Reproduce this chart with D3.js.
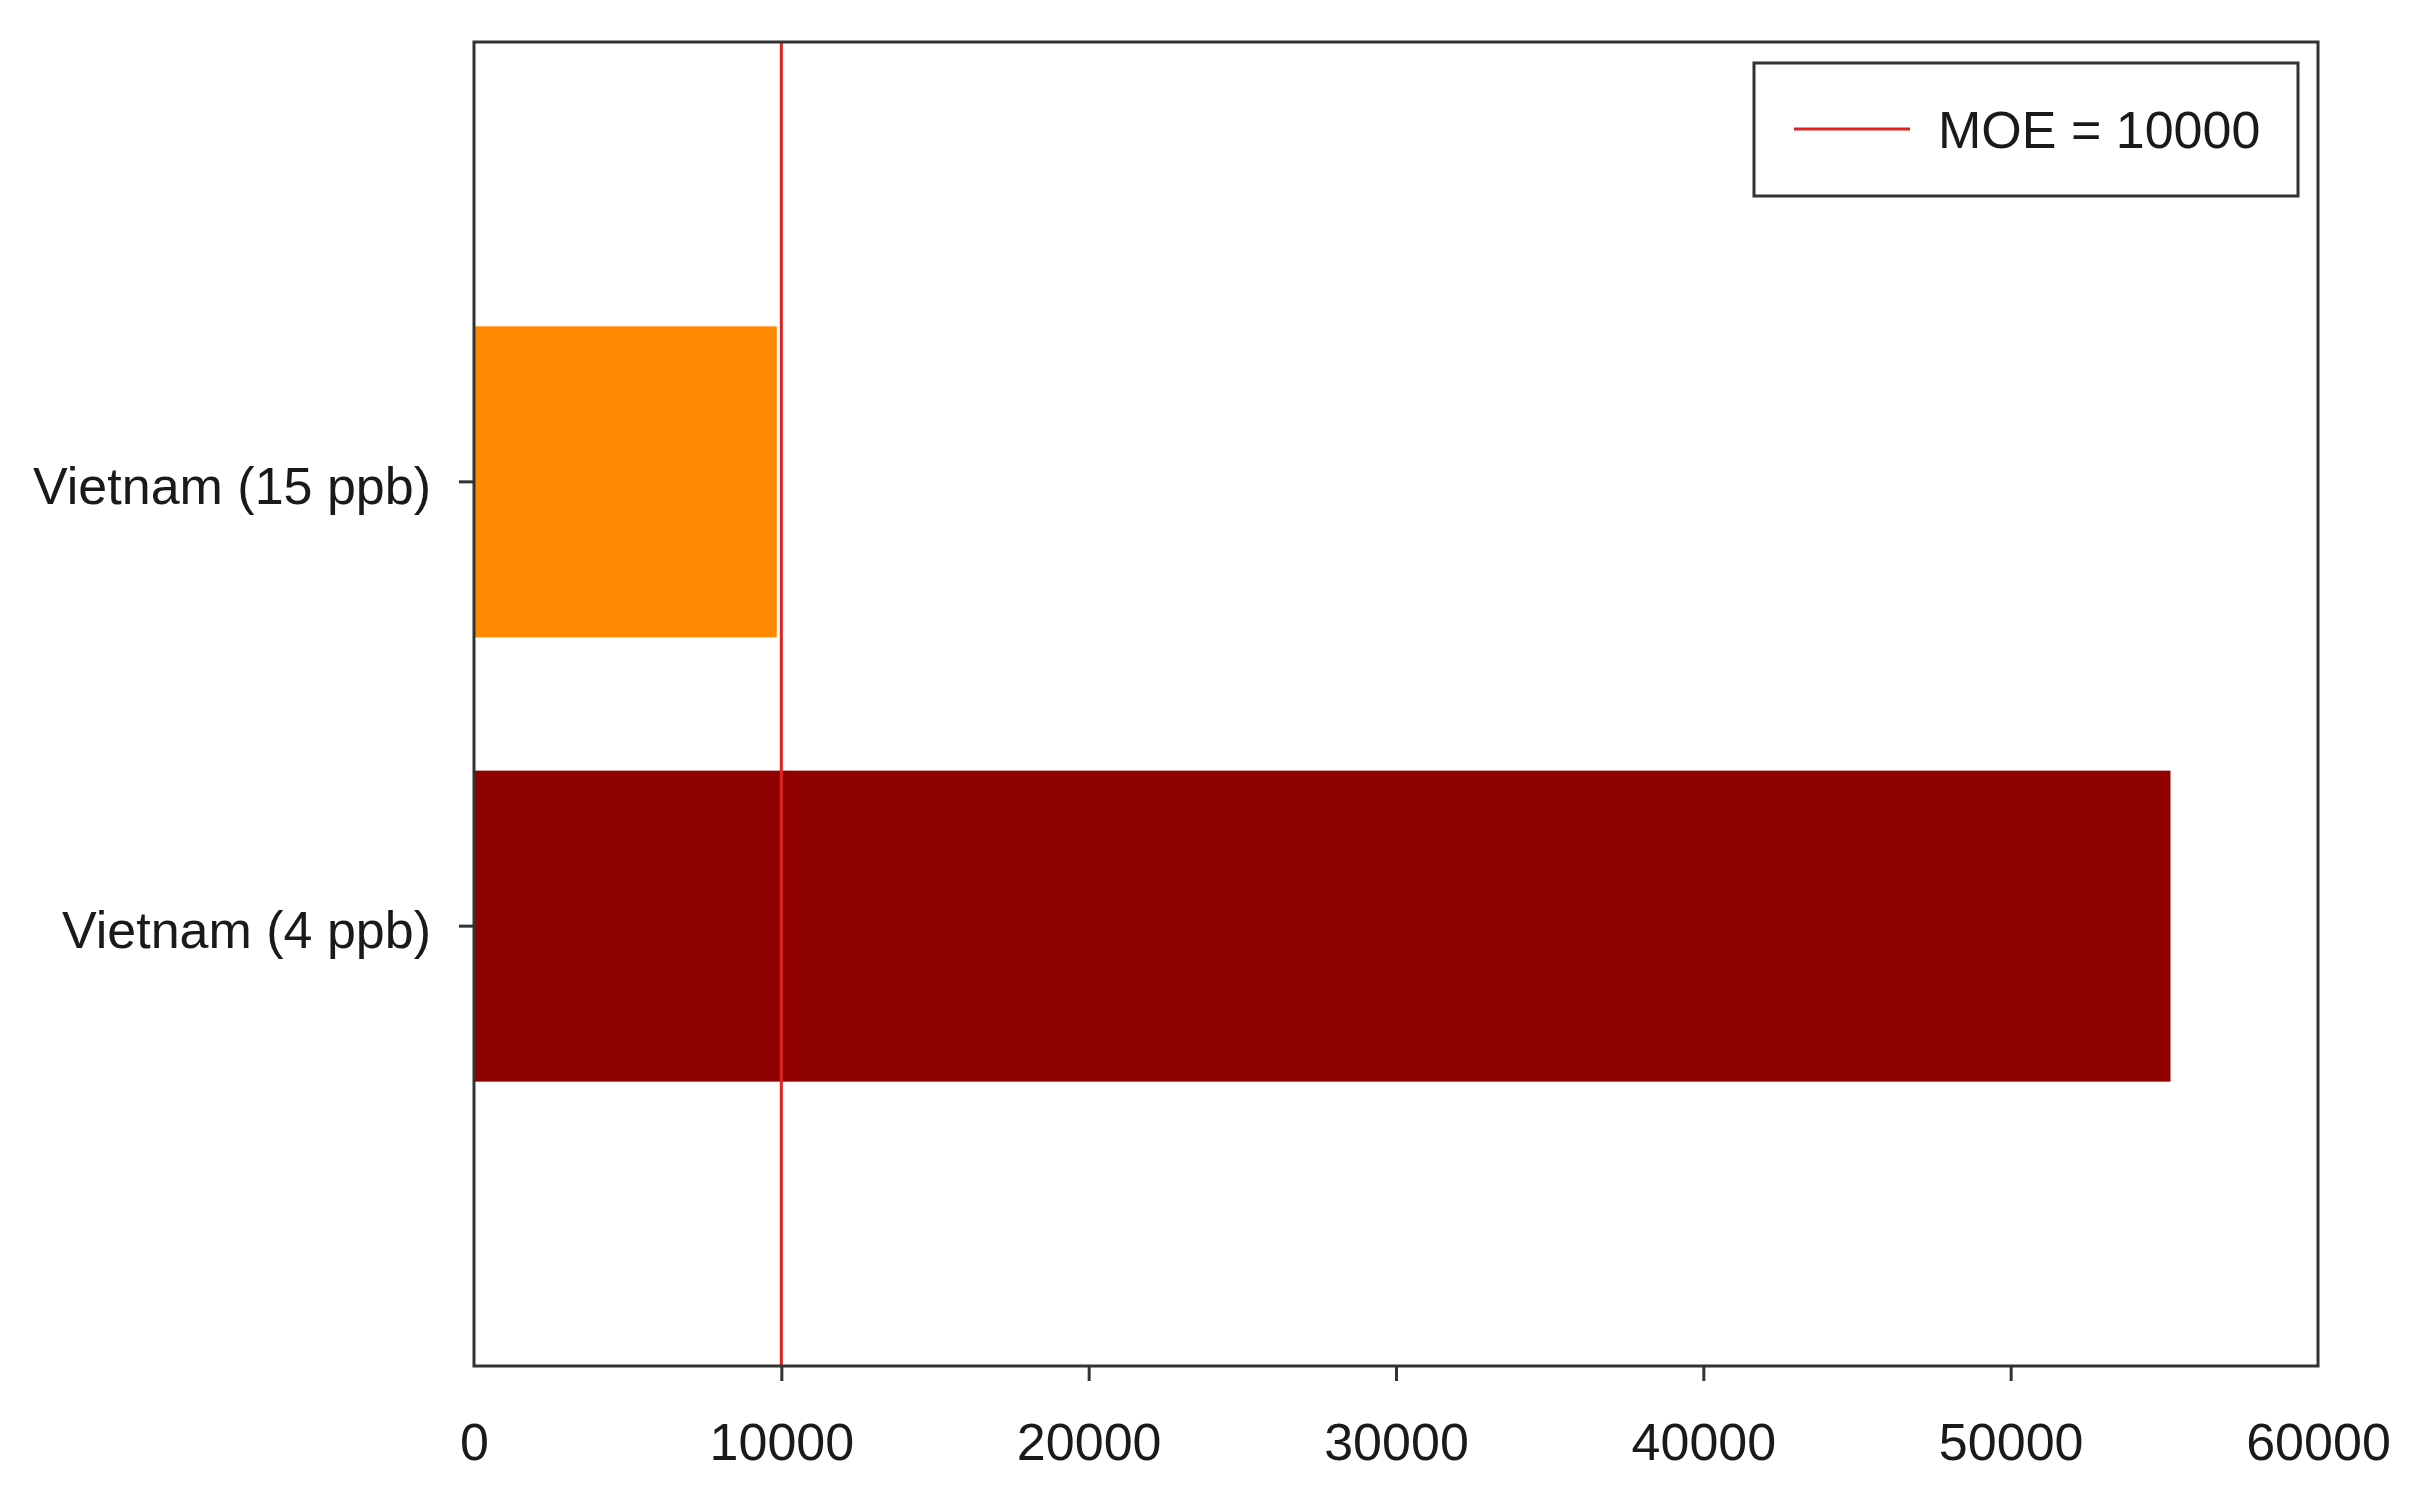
<!DOCTYPE html>
<html>
<head>
<meta charset="utf-8">
<script src="https://cdn.jsdelivr.net/npm/d3@7"></script>
<style>
  body { margin: 0; background: #fff; }
  text { font-family: "Liberation Sans", Arial, sans-serif; fill: #1a1a1a; }
</style>
</head>
<body>
<script>
// chart data
var categories = ["Vietnam (15 ppb)", "Vietnam (4 ppb)"];
var values = [9850, 55200];
var barColors = ["#ff8800", "#8f0000"];
var xTicks = [0, 10000, 20000, 30000, 40000, 50000, 60000];
var moeValue = 10000;
var legendLabel = "MOE = 10000";

// size and margins
var margin = {top: 42, right: 97, bottom: 124, left: 474},
    width = 2415 - margin.left - margin.right,
    height = 1490 - margin.top - margin.bottom;

var x = d3.scaleLinear().domain([0, 60000]).range([0, width]);
var y = d3.scaleBand().domain(categories).range([0, height])
    .paddingInner(0.3).paddingOuter(0.64);

var svg = d3.select("body").append("svg")
    .attr("width", 2415)
    .attr("height", 1490)
  .append("g")
    .attr("transform", "translate(" + margin.left + "," + margin.top + ")");

// bars
svg.selectAll(".bar")
    .data(values)
  .enter().append("rect")
    .attr("class", "bar")
    .attr("x", x(0))
    .attr("y", function(d, i) { return y(categories[i]); })
    .attr("width", function(d) { return x(d) - x(0); })
    .attr("height", y.bandwidth())
    .attr("fill", function(d, i) { return barColors[i]; });

// MOE reference line
svg.append("line")
    .attr("x1", x(moeValue)).attr("x2", x(moeValue))
    .attr("y1", 0).attr("y2", height)
    .attr("stroke", "#dd2222")
    .attr("stroke-width", 3);

// frame
svg.append("rect")
    .attr("width", width)
    .attr("height", height)
    .attr("fill", "none")
    .attr("stroke", "#333")
    .attr("stroke-width", 3);

// x axis
var xAxis = svg.append("g")
    .attr("transform", "translate(0," + height + ")")
    .call(d3.axisBottom(x).tickValues(xTicks).tickFormat(d3.format("d"))
      .tickSize(15).tickPadding(42));
xAxis.select(".domain").remove();
xAxis.selectAll(".tick line")
    .attr("stroke", "#333").attr("stroke-width", 3)
    .filter(function(d) { return d === 0 || d === 60000; }).remove();
xAxis.selectAll("text")
    .style("font-size", "52px")
    .style("font-family", "'Liberation Sans', Arial, sans-serif")
    .attr("fill", "#1a1a1a");

// y axis
var yAxis = svg.append("g")
    .call(d3.axisLeft(y).tickSize(15).tickPadding(28));
yAxis.select(".domain").remove();
yAxis.selectAll(".tick line").attr("stroke", "#333").attr("stroke-width", 3);
yAxis.selectAll("text")
    .attr("dy", "0.42em")
    .style("font-size", "52px")
    .style("font-family", "'Liberation Sans', Arial, sans-serif")
    .attr("fill", "#1a1a1a");

// legend
var legend = svg.append("g")
    .attr("transform", "translate(" + (1754 - margin.left) + "," + (63 - margin.top) + ")");
legend.append("rect")
    .attr("width", 544).attr("height", 133)
    .attr("fill", "#fff")
    .attr("stroke", "#333").attr("stroke-width", 3);
legend.append("line")
    .attr("x1", 40).attr("x2", 156)
    .attr("y1", 66).attr("y2", 66)
    .attr("stroke", "#dd2222").attr("stroke-width", 3);
legend.append("text")
    .attr("x", 184).attr("y", 66)
    .attr("dy", "0.36em")
    .style("font-size", "52px")
    .text(legendLabel);
</script>
</body>
</html>
